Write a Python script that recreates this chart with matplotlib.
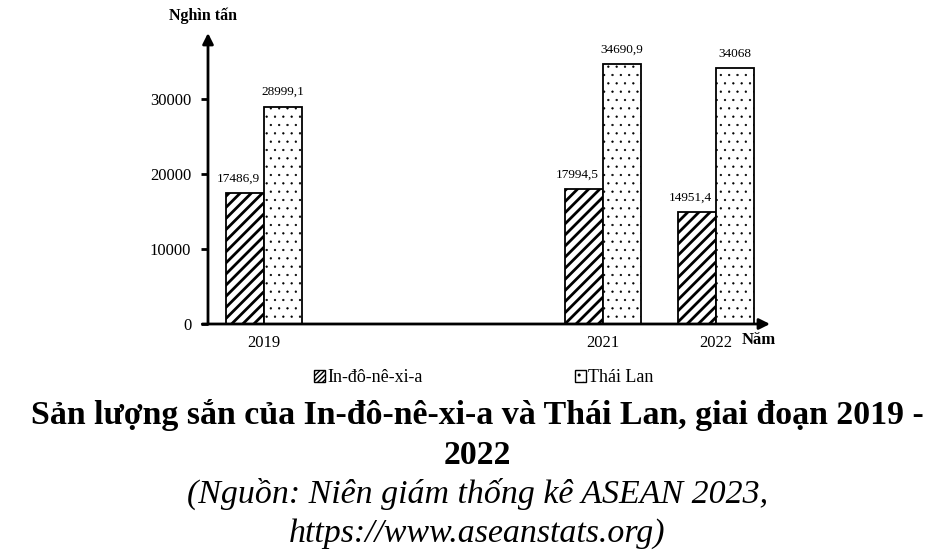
import matplotlib
matplotlib.use("Agg")
import matplotlib.pyplot as plt
import numpy as np
from matplotlib.patches import Patch

years = ["2019", "2021", "2022"]
indonesia = [17486.9, 17994.5, 14951.4]
thailand = [28999.1, 34690.9, 34068]
indo_labels = ["17486,9", "17994,5", "14951,4"]
thai_labels = ["28999,1", "34690,9", "34068"]
yticks = [0, 10000, 20000, 30000]

plt.rcParams['font.family'] = ['Liberation Serif', 'DejaVu Serif']

fig = plt.figure(figsize=(9.42, 5.58), dpi=100)
ax = fig.add_axes([208/942, 1-324/558, (770-208)/942, (324-33)/558])

pos = np.array([0, 3, 4])
w = 0.336
with plt.rc_context({'hatch.linewidth': 2.0}):
    b1 = ax.bar(pos - w/2, indonesia, w, facecolor='white', edgecolor='black', hatch='///', linewidth=1.3)
    h1 = Patch(facecolor='white', edgecolor='black', hatch='///////', label='In-đô-nê-xi-a')
with plt.rc_context({'hatch.linewidth': 0.4}):
    b2 = ax.bar(pos + w/2, thailand, w, facecolor='white', edgecolor='black', hatch='..', linewidth=1.3)
    h2 = Patch(facecolor='white', edgecolor='black', hatch='..', label='Thái Lan')

for x, v, t in zip(pos - w/2, indonesia, indo_labels):
    ax.annotate(t, (x, v), xytext=(-5, 6), textcoords='offset points', ha='center', va='bottom', fontsize=9.5)
for x, v, t in zip(pos + w/2, thailand, thai_labels):
    ax.annotate(t, (x, v), xytext=(0, 6), textcoords='offset points', ha='center', va='bottom', fontsize=9.5)

ax.set_xlim(-0.496, 4.478)
ax.set_ylim(0, 38800)
ax.set_yticks(yticks)
ax.set_yticklabels([str(t) for t in yticks], fontsize=12)
ax.set_xticks(pos)
ax.set_xticklabels(years, fontsize=12)
ax.tick_params(axis='y', length=5, width=2, pad=7, direction='out')
ax.tick_params(axis='x', length=0, pad=8)
for s in ax.spines.values():
    s.set_visible(False)

ax.annotate('', xy=(1, 0), xytext=(-0.01, 0), xycoords='axes fraction',
            arrowprops=dict(arrowstyle='-|>', lw=2, color='black', mutation_scale=16, shrinkA=0, shrinkB=0))
ax.annotate('', xy=(0, 1), xytext=(0, 0), xycoords='axes fraction',
            arrowprops=dict(arrowstyle='-|>', lw=2, color='black', mutation_scale=16, shrinkA=0, shrinkB=0))

fig.text(203/942, 1-16/558, "Nghìn tấn", fontsize=11.5, fontweight='bold', ha='center', va='center')
fig.text(759/942, 1-340/558, "Năm", fontsize=12, fontweight='bold', ha='center', va='center')

fig.legend(handles=[h1, h2], loc='center', bbox_to_anchor=(484/942, 1-378/558), ncol=2,
           frameon=False, fontsize=13, handlelength=0.6, handleheight=0.6, handletextpad=0.12,
           columnspacing=8.45)

fs = 24.4
cx = 477.5/942
fig.text(cx, 1-415/558, "Sản lượng sắn của In-đô-nê-xi-a và Thái Lan, giai đoạn 2019 -",
         fontsize=fs, fontweight='bold', ha='center', va='center')
fig.text(cx, 1-455/558, "2022", fontsize=fs, fontweight='bold', ha='center', va='center')
fig.text(cx, 1-494/558, "(Nguồn: Niên giám thống kê ASEAN 2023,", fontsize=fs, style='italic', ha='center', va='center')
fig.text(cx, 1-534/558, "https://www.aseanstats.org)", fontsize=fs, style='italic', ha='center', va='center')

fig.savefig("out.png", dpi=100)
